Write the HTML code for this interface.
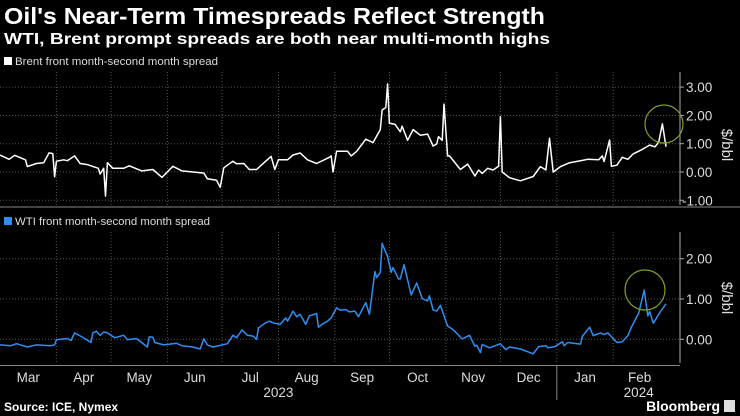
<!DOCTYPE html>
<html><head><meta charset="utf-8"><style>
body{margin:0;background:#000;width:740px;height:416px;overflow:hidden;font-family:"Liberation Sans",sans-serif;color:#fff}
svg{position:absolute;left:0;top:0}
</style></head><body>
<svg width="740" height="416" id="svg">
<text x="4" y="24" font-size="23" font-weight="bold" fill="#fff" textLength="541" lengthAdjust="spacingAndGlyphs">Oil's Near-Term Timespreads Reflect Strength</text>
<text x="4" y="44" font-size="16" font-weight="bold" fill="#fff" textLength="546" lengthAdjust="spacingAndGlyphs">WTI, Brent prompt spreads are both near multi-month highs</text>
<rect x="4" y="57" width="8" height="8" fill="#fff"/>
<text x="15" y="65" font-size="11" fill="#ddd" textLength="203" lengthAdjust="spacingAndGlyphs">Brent front month-second month spread</text>
<rect x="4" y="217" width="8" height="8" fill="#2f8ff0"/>
<text x="15" y="225" font-size="11" fill="#ddd" textLength="195" lengthAdjust="spacingAndGlyphs">WTI front month-second month spread</text>
<g id="g"></g>
<text x="4" y="411" font-size="12" font-weight="bold" fill="#fff">Source: ICE, Nymex</text>
<text x="720" y="411" font-size="14" font-weight="bold" fill="#fff" text-anchor="end">Bloomberg</text>
<rect x="724" y="400" width="11" height="12" fill="#ddd"/>
</svg>
<script>
const monthLabels=["Mar","Apr","May","Jun","Jul","Aug","Sep","Oct","Nov","Dec","Jan","Feb"];
const monthStartDays=[0,31,61,92,122,153,184,214,245,275,306,337,366];
const yearLabels=["2023","2024"];
const brentTicks=[3,2,1,0,-1];
const wtiTicks=[2,1,0];
const brentDays=[0,5,8,14,15,20,24,27,29,30,31,35,37,41,44,48,54,55,57,58,59,62,68,71,78,84,89,95,100,106,112,114,119,121,123,128,130,134,137,141,146,149,151,153,158,161,165,169,174,181,182,183,185,191,193,196,201,205,209,210,212,213,214,217,220,221,224,227,231,235,238,240,241,243,244,246,247,253,257,261,263,265,268,271,274,275,276,280,286,293,297,300,302,304,308,313,319,323,329,331,332,335,336,339,342,345,348,353,357,360,362,364,366];
const brentVals=[0.6,0.45,0.59,0.43,0.19,0.3,0.33,0.68,0.65,-0.17,0.38,0.43,0.4,0.57,0.3,0.26,0.13,-0.07,0.13,-0.85,0.33,0.13,0.13,0.22,0.04,0.09,-0.19,0.2,0.04,0,-0.04,-0.24,-0.29,-0.54,0.15,0.38,0.29,0.3,0.09,0.09,0.38,0.55,0.09,0.43,0.43,0.6,0.67,0.43,0.3,0.52,0.57,0,0.73,0.73,0.57,0.73,1.16,1.04,1.5,2.19,2.28,3.11,1.72,1.69,1.42,1.62,1.12,1.5,1.3,1.34,0.92,0.99,1.25,1.12,2.4,0.57,0.57,0.09,0.28,-0.14,0.07,-0.05,0.13,0.07,0.2,1.95,0,-0.2,-0.31,-0.16,0.19,0.07,1.19,0,0.19,0.33,0.4,0.45,0.43,0.57,0.37,1.13,0.2,0.24,0.52,0.45,0.64,0.8,0.95,0.89,1.06,1.7,0.89];
const wtiDays=[0,6,9,15,20,28,30,31,37,39,41,45,50,51,53,55,57,59,63,68,70,75,81,82,84,85,90,97,100,106,110,112,114,117,125,128,130,133,136,139,141,142,146,148,150,154,157,158,161,163,165,168,170,174,175,177,180,182,185,187,190,192,195,197,201,203,206,207,209,210,213,215,216,219,220,222,226,229,232,235,236,238,240,242,246,249,254,258,261,262,264,265,269,275,278,280,286,293,296,300,301,305,309,310,312,319,320,324,326,330,332,334,339,342,345,347,351,354,356,357,359,363,366];
const wtiVals=[-0.14,-0.16,-0.11,-0.19,-0.14,-0.16,-0.14,-0.01,0.02,-0.03,0.16,0.06,-0.08,0.16,0.2,0.1,0.18,0.16,0.04,0.1,-0.01,0.02,-0.19,0.06,0.05,-0.08,-0.14,-0.1,-0.16,-0.19,-0.24,0.01,-0.14,-0.19,-0.11,0.1,0.04,0.23,0.1,0.08,0,0.28,0.41,0.45,0.41,0.37,0.53,0.45,0.7,0.56,0.62,0.37,0.58,0.64,0.3,0.37,0.45,0.53,0.78,0.72,0.74,0.68,0.7,0.56,0.91,0.62,1.68,1.53,1.66,2.38,2.05,1.66,1.78,1.5,1.5,1.85,1.1,1.4,1.01,0.95,1.08,0.73,0.7,0.84,0.33,0.24,0.01,0.1,-0.17,-0.15,-0.33,-0.13,-0.21,-0.11,-0.26,-0.19,-0.24,-0.36,-0.18,-0.16,-0.21,-0.18,-0.06,-0.16,-0.08,-0.12,0.07,0.3,0.09,0.16,0.12,0.16,-0.08,-0.06,0.09,0.3,0.65,1.22,0.58,0.69,0.4,0.69,0.88];

const NS="http://www.w3.org/2000/svg";
const g=document.getElementById('g');
function mk(tag,attrs){const e=document.createElementNS(NS,tag);for(const k in attrs)e.setAttribute(k,attrs[k]);g.appendChild(e);return e;}
const xS=d=>d*666/366;
const yTop=v=>172-v*28.3;
const yBot=v=>339.3-v*40.3;

function panel(y0,y1,yS,ticks,days,vals,color,prefix,titleY){
  for(let i=1;i<monthStartDays.length-1;i++){
    const l=mk('line',{x1:xS(monthStartDays[i]),x2:xS(monthStartDays[i]),y1:y0,y2:y1,stroke:'#555','stroke-dasharray':'1,2'});
    
    
  }
  ticks.forEach(t=>{
    const l=mk('line',{x1:0,x2:680,y1:yS(t),y2:yS(t),stroke:'#555','stroke-dasharray':'1,2'});
    
    
    const tk=mk('line',{x1:680,x2:684,y1:yS(t),y2:yS(t),stroke:'#aaa'});
    
    
    const tx=mk('text',{x:t<0?682:686,y:yS(t)+5,'font-size':13.5,fill:'#ddd'});
    tx.textContent=t.toFixed(2);
    
    
  });
  const ax=mk('line',{x1:680,x2:680,y1:y0,y2:y1,stroke:'#aaa'});
  
  
  const tt=mk('text',{x:0,y:0,'font-size':15,fill:'#ddd','text-anchor':'middle',transform:`translate(722,${titleY}) rotate(90)`});
  tt.textContent='$/bbl';
  
  
  const p=mk('path',{d:days.map((d,i)=>(i?'L':'M')+xS(d).toFixed(1)+','+yS(vals[i]).toFixed(1)).join(''),fill:'none',stroke:color,'stroke-width':1.5,'stroke-linejoin':'round'});
  
  
}
panel(72,205,yTop,brentTicks,brentDays,brentVals,'#fff','brent',145);
panel(232,363,yBot,wtiTicks,wtiDays,wtiVals,'#2f8ff0','wti',298);

const sep=mk('line',{x1:0,x2:740,y1:207,y2:207,stroke:'#444','stroke-width':2});


const xa=mk('line',{x1:0,x2:680,y1:365.5,y2:365.5,stroke:'#888'});


monthLabels.forEach((m,i)=>{
  const t=mk('text',{x:xS((monthStartDays[i]+monthStartDays[i+1])/2),y:382,'font-size':13.5,fill:'#ddd','text-anchor':'middle'});
  t.textContent=m;
  
  
});
const ys=mk('line',{x1:xS(306),x2:xS(306),y1:366,y2:400,stroke:'#888'});


[[153,yearLabels[0]],[351,yearLabels[1]]].forEach(([d,l])=>{
  const t=mk('text',{x:xS(d),y:397,'font-size':13.5,fill:'#ddd','text-anchor':'middle'});
  t.textContent=l;
  
  
});
const c1=mk('circle',{cx:664,cy:124,r:19,fill:'none',stroke:'#7fa02a','stroke-width':1.2});


const c2=mk('circle',{cx:645,cy:290,r:20,fill:'none',stroke:'#7fa02a','stroke-width':1.2});


</script>
</body></html>
